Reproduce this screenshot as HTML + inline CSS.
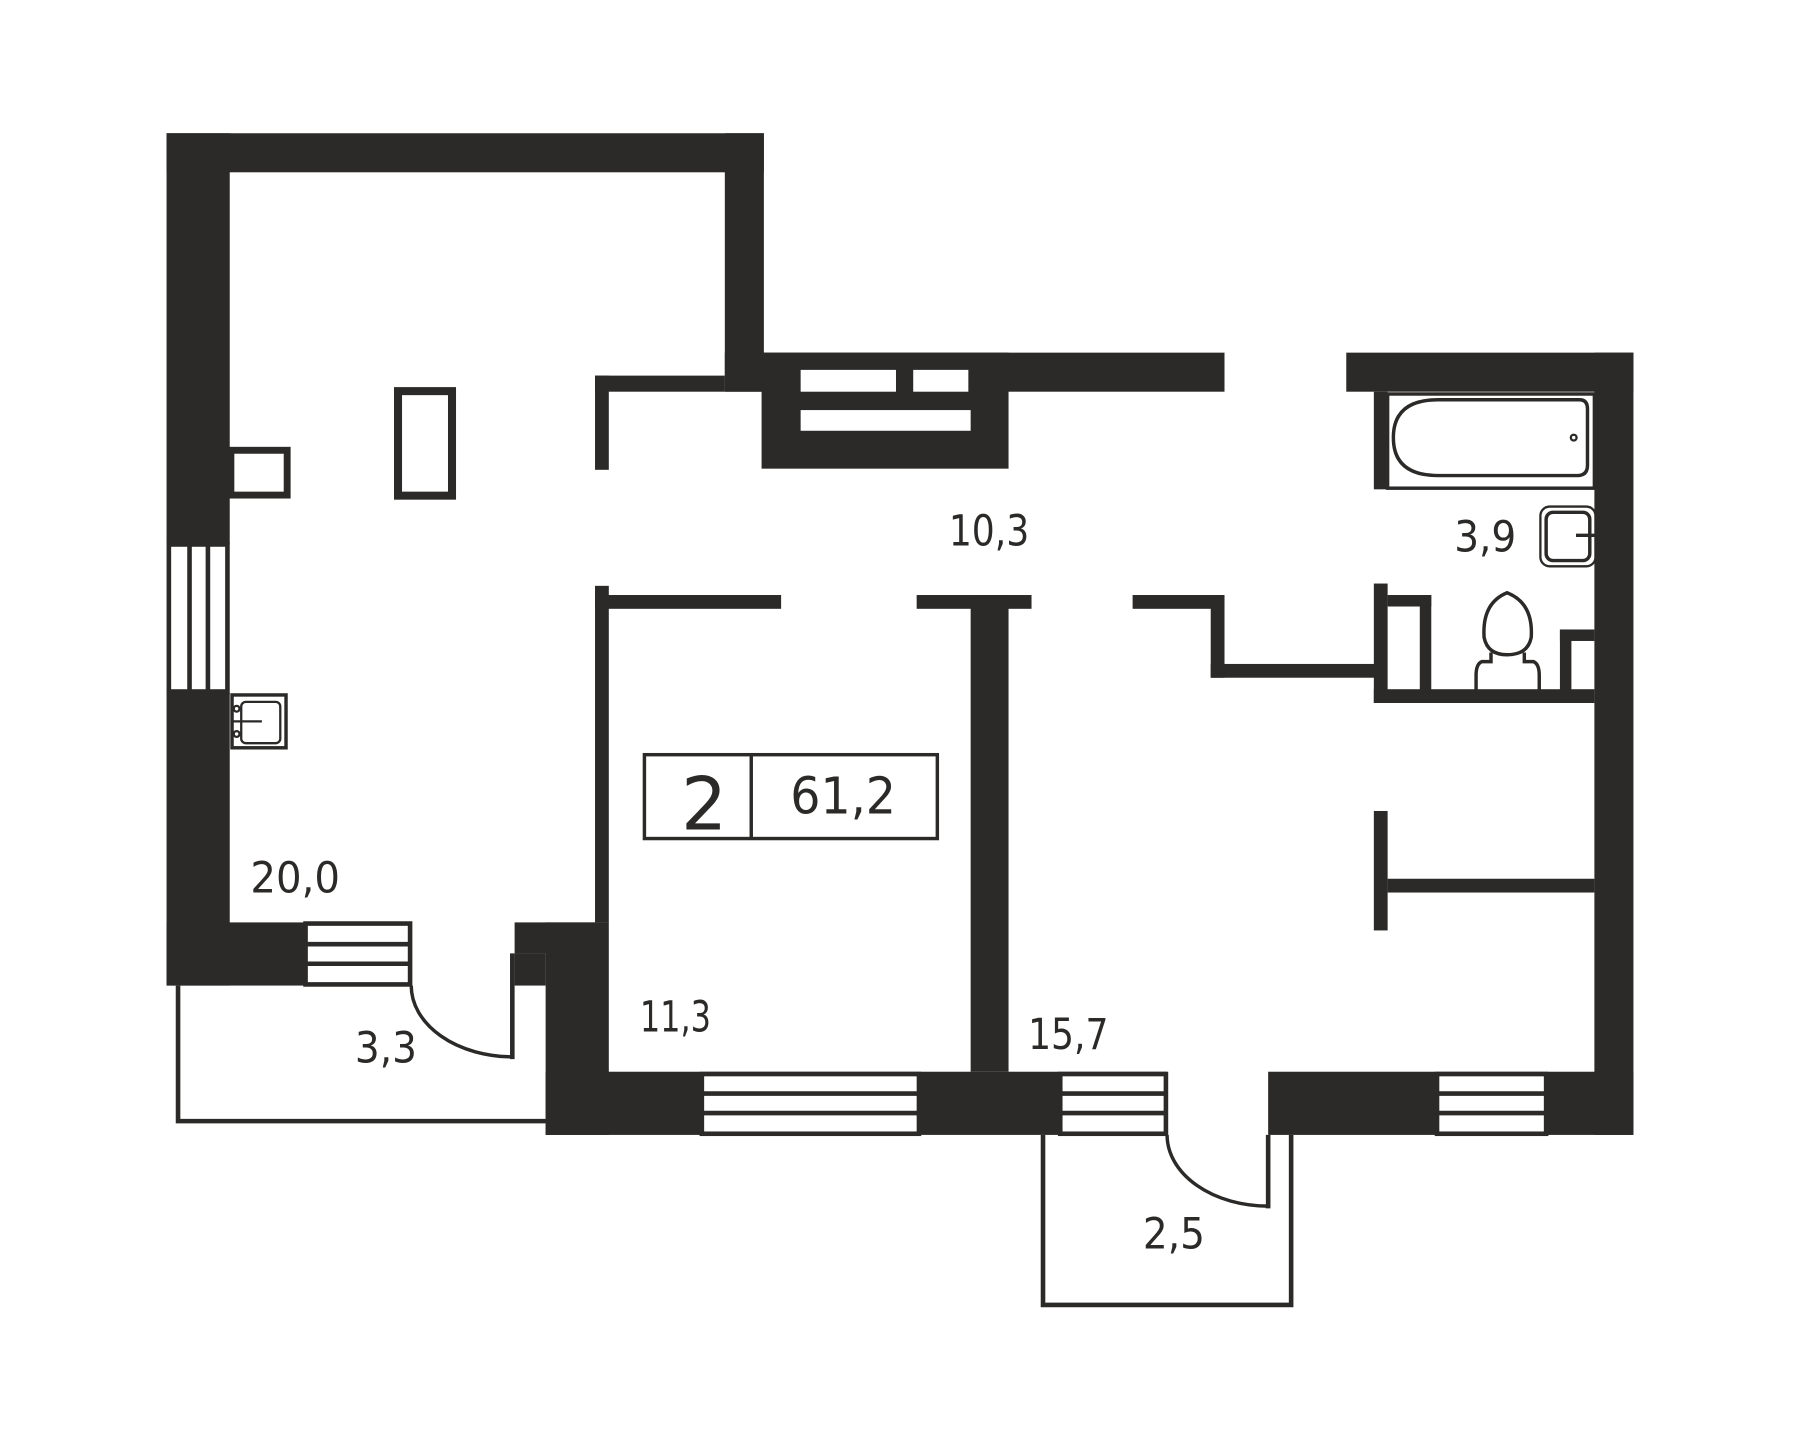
<!DOCTYPE html>
<html><head><meta charset="utf-8"><style>html,body{margin:0;padding:0;background:#fff}svg{display:block}</style></head>
<body>
<svg width="1800" height="1440" viewBox="0 0 1567 1253.6" preserveAspectRatio="none" xmlns="http://www.w3.org/2000/svg">
<rect width="1567" height="1254" fill="#fff"/>
<g fill="#2b2a28">
<rect x="145" y="116" width="520" height="34"/>
<rect x="145" y="116" width="55" height="357"/>
<rect x="145" y="603" width="55" height="255"/>
<rect x="631" y="116" width="34" height="225"/>
<rect x="631" y="307" width="435" height="34"/>
<rect x="663" y="307" width="215" height="101"/>
<rect x="1172" y="307" width="250" height="34"/>
<rect x="1388" y="307" width="34" height="681"/>
<rect x="145" y="803" width="120" height="55"/>
<rect x="448" y="803" width="80" height="27"/>
<rect x="448" y="830" width="27" height="28"/>
<rect x="475" y="803" width="55" height="185"/>
<rect x="475" y="933" width="541" height="55"/>
<rect x="1104" y="933" width="318" height="55"/>
<rect x="845" y="518" width="33" height="415"/>
<rect x="518" y="510" width="12" height="293"/>
<rect x="518" y="518" width="162" height="12"/>
<rect x="798" y="518" width="100" height="12"/>
<rect x="986" y="518" width="80" height="12"/>
<rect x="1054" y="518" width="12" height="72"/>
<rect x="1054" y="578" width="150" height="12"/>
<rect x="1196" y="508" width="12" height="104"/>
<rect x="1196" y="600" width="192" height="12"/>
<rect x="1196" y="341" width="12" height="85"/>
<rect x="1196" y="706" width="12" height="104"/>
<rect x="1208" y="765" width="180" height="12"/>
<rect x="518" y="327" width="113" height="14"/>
<rect x="518" y="327" width="12" height="82"/>
<rect x="1208" y="518" width="38" height="10"/>
<rect x="1236" y="518" width="10" height="85"/>
<rect x="1358" y="548" width="30" height="10"/>
<rect x="1358" y="548" width="10" height="55"/>
</g>
<g fill="#fff">
<rect x="697" y="322" width="83" height="19"/>
<rect x="795" y="322" width="48" height="19"/>
<rect x="697" y="357" width="148" height="18"/>
</g>
<g fill="#fff" stroke="#2b2a28" stroke-width="4">
<rect x="147" y="474" width="51" height="128"/>
<line x1="165" y1="474" x2="165" y2="602"/><line x1="181" y1="474" x2="181" y2="602"/>
<rect x="266" y="804" width="91" height="53"/>
<line x1="266" y1="822" x2="357" y2="822"/><line x1="266" y1="839" x2="357" y2="839"/>
<rect x="611" y="935" width="189" height="52"/>
<line x1="611" y1="952" x2="800" y2="952"/><line x1="611" y1="969" x2="800" y2="969"/>
<rect x="923" y="935" width="92" height="52"/>
<line x1="923" y1="952" x2="1015" y2="952"/><line x1="923" y1="969" x2="1015" y2="969"/>
<rect x="1251" y="935" width="95" height="52"/>
<line x1="1251" y1="952" x2="1346" y2="952"/><line x1="1251" y1="969" x2="1346" y2="969"/>
</g>
<g fill="none" stroke="#2b2a28">
<rect x="346.5" y="340.5" width="47" height="91" stroke-width="7"/>
<rect x="201" y="392" width="49" height="39" stroke-width="6"/>
<rect x="202" y="605" width="47" height="46" stroke-width="3"/>
<rect x="210" y="611" width="34" height="36" rx="4" stroke-width="2"/>
<line x1="203" y1="628" x2="228" y2="628" stroke-width="2"/>
<circle cx="206" cy="617" r="2.5" stroke-width="2"/>
<circle cx="206" cy="639" r="2.5" stroke-width="2"/>
<path d="M155 858 V976 H475" stroke-width="4"/>
<path d="M358 858 A88 62 0 0 0 446 920" stroke-width="3"/>
<line x1="446" y1="830" x2="446" y2="922" stroke-width="4"/>
<path d="M908 988 V1136 H1124 V988" stroke-width="4"/>
<path d="M1016 988 A88 62 0 0 0 1104 1050" stroke-width="3"/>
<line x1="1104" y1="988" x2="1104" y2="1052" stroke-width="4"/>
<rect x="1208" y="343" width="180" height="82" stroke-width="3"/>
<path d="M1252 348 H1375 Q1382 348 1382 356 V405 Q1382 414 1373 414 H1252 Q1213 414 1213 381 Q1213 348 1252 348 Z" stroke-width="3"/>
<circle cx="1370" cy="381" r="2.5" stroke-width="2"/>
<rect x="1341" y="441" width="48" height="52" rx="8" stroke-width="2"/>
<rect x="1346" y="446" width="38" height="42" rx="6" stroke-width="3"/>
<line x1="1372" y1="466" x2="1390" y2="466" stroke-width="3"/>
<path d="M1312 516 Q1290 525 1292 555 Q1295 570 1312 570 Q1330 570 1333 555 Q1335 525 1312 516 Z" stroke-width="3"/>
<path d="M1298 568 V576 H1290 Q1285 578 1285 588 V603 M1327 568 V576 H1335 Q1340 578 1340 588 V603" stroke-width="3"/>
<rect x="561" y="657" width="255" height="73" stroke-width="3"/>
<line x1="654" y1="657" x2="654" y2="730" stroke-width="3"/>
</g>
<g fill="#2b2a28" font-family="'DejaVu Sans Condensed','Liberation Sans Narrow','DejaVu Sans',sans-serif" font-size="37" font-weight="300">
<text x="826" y="475" textLength="70" lengthAdjust="spacingAndGlyphs">10,3</text>
<text x="1266" y="480" textLength="54" lengthAdjust="spacingAndGlyphs">3,9</text>
<text x="218" y="777" textLength="78" lengthAdjust="spacingAndGlyphs">20,0</text>
<text x="557" y="898" textLength="62" lengthAdjust="spacingAndGlyphs">11,3</text>
<text x="895" y="913" textLength="70" lengthAdjust="spacingAndGlyphs">15,7</text>
<text x="309" y="925" textLength="54" lengthAdjust="spacingAndGlyphs">3,3</text>
<text x="995" y="1087" textLength="54" lengthAdjust="spacingAndGlyphs">2,5</text>
<text x="688" y="708" font-size="44" textLength="92" lengthAdjust="spacingAndGlyphs">61,2</text>
<text x="593" y="722" font-size="64" textLength="40" lengthAdjust="spacingAndGlyphs">2</text>
</g>
</svg>
</body></html>
